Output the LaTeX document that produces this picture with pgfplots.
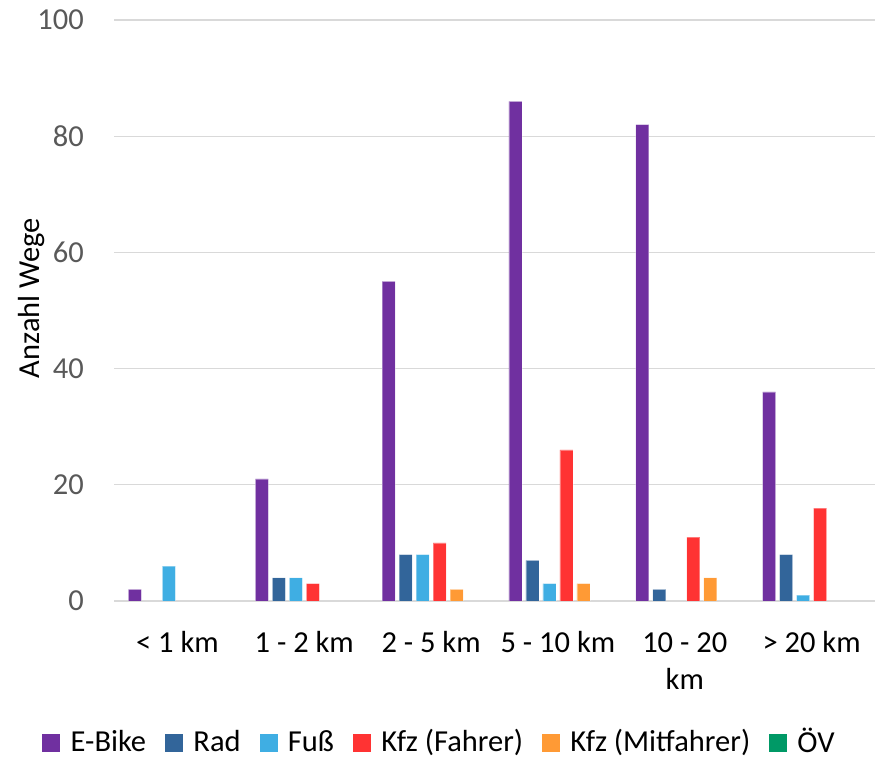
\documentclass[border=0pt]{standalone}
\usepackage{pgfplots}
\pgfplotsset{compat=1.18}
\usepackage{fontspec}
\setmainfont{Carlito}
\definecolor{ebike}{HTML}{7030A0}
\definecolor{rad}{HTML}{32659A}
\definecolor{fuss}{HTML}{3FAEE3}
\definecolor{kfzf}{HTML}{FF3333}
\definecolor{kfzm}{HTML}{FF9A35}
\definecolor{oev}{HTML}{009966}
\definecolor{tickgray}{HTML}{595959}
\definecolor{gridgray}{HTML}{D9D9D9}
\newcommand\fs{\fontsize{30.5bp}{37bp}\selectfont}
\pgfplotsset{
  sq/.style={legend image code/.code={\fill[##1,draw=none] (0bp,-9bp) rectangle (18bp,9bp); \path (26bp,0bp);}},
  bars/.style={ybar, bar width=13bp, draw=white, draw opacity=0.35, line width=0.6bp, sq},
}
\begin{document}
\fs
\begin{tikzpicture}[x=1bp,y=1bp]
\path[use as bounding box] (0,0) rectangle (883,757);
\begin{axis}[
  at={(114bp,156bp)}, anchor=south west,
  width=761bp, height=581bp, scale only axis,
  xmin=-0.5, xmax=5.5, ymin=0, ymax=100,
  ytick={0,20,...,100},
  xtick={0,...,5},
  xticklabels={{\strut< 1 km},{\strut1 - 2 km},{\strut2 - 5 km},{\strut5 - 10 km},{\strut10 - 20\\km},{\strut> 20 km}},
  major tick length=0pt,
  axis x line*=bottom, axis y line*=left,
  y axis line style={draw=none},
  x axis line style={draw=gridgray, line width=1.5bp},
  ymajorgrids,
  grid style={draw=gridgray, line width=1.3bp},
  /pgf/number format/assume math mode=true,
  tick label style={font=\fs},
  yticklabel style={text=tickgray, anchor=east, inner sep=0pt, xshift=-30bp},
  xticklabel style={align=center, anchor=north, inner sep=0pt, yshift=-25bp, text=black},
  ylabel={Anzahl Wege},
  ylabel style={at={(axis description cs:-0.1078,0.5215)}, anchor=center, font=\fs, inner sep=0pt},
  legend style={at={(axis description cs:0.4277,-0.2444)}, anchor=center, draw=none,
    font=\fs, inner sep=2bp, column sep=0pt, nodes={inner sep=2bp},
    /tikz/every even column/.append style={column sep=17bp}},
  legend columns=-1,
  legend cell align=left,
]
\addplot[bars, bar shift=-42.5bp, fill=ebike] coordinates {(0,2) (1,21) (2,55) (3,86) (4,82) (5,36)};
\addlegendentry{E-Bike}
\addplot[bars, bar shift=-25.5bp, fill=rad] coordinates {(1,4) (2,8) (3,7) (4,2) (5,8)};
\addlegendentry{Rad}
\addplot[bars, bar shift=-8.5bp, fill=fuss] coordinates {(0,6) (1,4) (2,8) (3,3) (5,1)};
\addlegendentry{Fuß}
\addplot[bars, bar shift=8.5bp, fill=kfzf] coordinates {(1,3) (2,10) (3,26) (4,11) (5,16)};
\addlegendentry{Kfz (Fahrer)}
\addplot[bars, bar shift=25.5bp, fill=kfzm] coordinates {(2,2) (3,3) (4,4)};
\addlegendentry{Kfz (Mitfahrer)}
\addlegendimage{sq, fill=oev}
\addlegendentry{ÖV}
\end{axis}
\end{tikzpicture}
\end{document}
